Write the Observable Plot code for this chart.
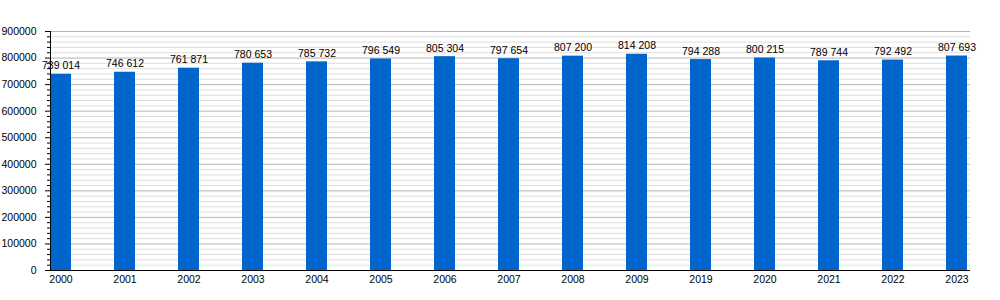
<!DOCTYPE html>
<html>
<head>
<meta charset="utf-8">
<script src="https://cdn.jsdelivr.net/npm/d3@7"></script>
<script src="https://cdn.jsdelivr.net/npm/@observablehq/plot@0.6"></script>
<style>
  html, body { margin: 0; padding: 0; background: #fff; }
</style>
</head>
<body>
<div id="chart"></div>
<script>
const years = ["2000","2001","2002","2003","2004","2005","2006","2007","2008","2009","2019","2020","2021","2022","2023"];
const populations = [739014,746612,761871,780653,785732,796549,805304,797654,807200,814208,794288,800215,789744,792492,807693];
const majorTicks = d3.range(0, 900001, 100000);
const minorTicks = d3.range(0, 900001, 20000).filter(v => v % 100000 !== 0);

const data = years.map((y, i) => ({year: y, value: populations[i]}));
const fmt = d3.formatLocale({decimal: ",", thousands: " ", grouping: [3], currency: ["", ""]}).format(",d");

const chart = Plot.plot({
  width: 1000,
  height: 300,
  marginLeft: 50,
  marginRight: 30,
  marginTop: 31,
  marginBottom: 30,
  style: {fontFamily: "Liberation Sans, Arial, sans-serif", fontSize: "10.5px", color: "#000", background: "#fff"},
  x: {domain: years, paddingInner: 0.673, paddingOuter: 0, align: 0, label: null},
  y: {domain: [0, 900000], label: null},
  marks: [
    Plot.ruleY(minorTicks, {stroke: "#dedede", strokeWidth: 1}),
    Plot.ruleY(majorTicks, {stroke: "#b3b3b3", strokeWidth: 1}),
    Plot.barY(data, {x: "year", y: "value", fill: "#0066cc"}),
    Plot.text(data, {x: "year", y: "value", text: d => fmt(d.value), lineAnchor: "bottom", dy: -5, fill: "#000", fontSize: 10.5}),
    Plot.axisY({ticks: minorTicks, tickSize: 3, text: null, stroke: "#000", label: null}),
    Plot.axisY({ticks: majorTicks, tickSize: 5, tickPadding: 9, tickFormat: d => String(d), stroke: "#000", label: null, fontSize: 10.5}),
    Plot.axisX({tickSize: 0, tickPadding: 5, label: null, fontSize: 10.5}),
    Plot.ruleY([0], {stroke: "#000", strokeWidth: 1}),
    Plot.frame({anchor: "left", stroke: "#000"})
  ]
});
document.getElementById("chart").appendChild(chart);
</script>
</body>
</html>
